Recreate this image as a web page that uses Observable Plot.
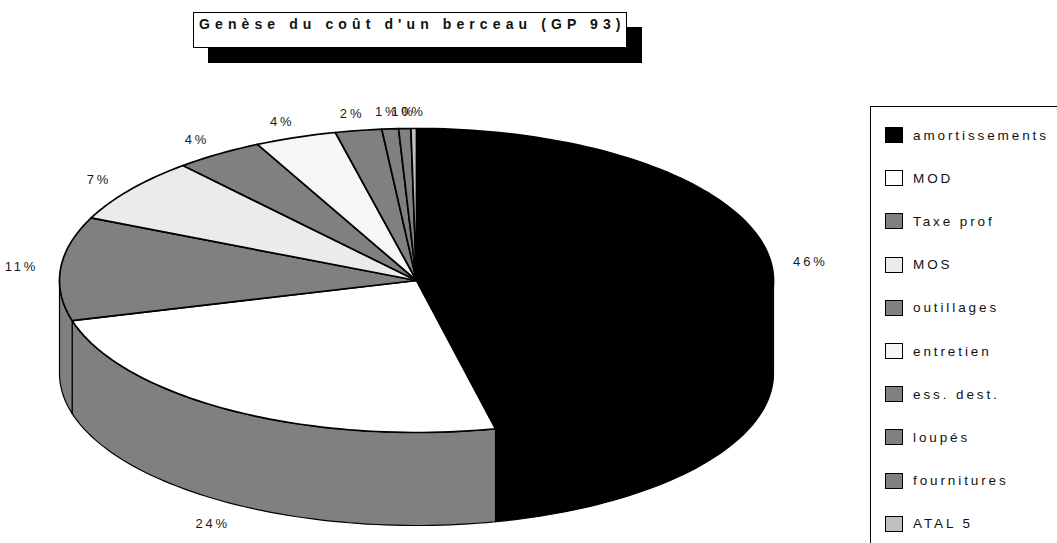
<!DOCTYPE html>
<html>
<head>
<meta charset="utf-8">
<script src="https://cdn.jsdelivr.net/npm/d3@7"></script>
<script src="https://cdn.jsdelivr.net/npm/@observablehq/plot@0.6"></script>
<style>
  html, body { margin: 0; padding: 0; background: #fff; }
  #wrap { position: relative; width: 1057px; height: 543px; overflow: hidden; font-family: "Liberation Sans", Arial, sans-serif; }
  #chart { position: absolute; left: 0; top: 0; }
  #title-shadow { position: absolute; left: 208px; top: 27px; width: 434px; height: 36px; background: #000; }
  #title { position: absolute; left: 193px; top: 12px; width: 434px; height: 36px; background: #fff; border: 1px solid #000;
           font-weight: bold; font-size: 14px; letter-spacing: 5.1px; line-height: 36px; padding-left: 5px; box-sizing: border-box; white-space: nowrap; color: #111; }
  #title span { position: relative; top: -7px; }
  #legend { position: absolute; left: 870px; top: 106px; width: 300px; height: 500px; border: 1px solid #000; background: #fff; }
  .item { position: absolute; left: 14px; height: 16px; display: flex; align-items: center; font-size: 13.5px; letter-spacing: 2.9px; color: #111; white-space: nowrap; }
  .sw { width: 18px; height: 16px; border: 1px solid #000; box-sizing: border-box; margin-right: 10px; }
</style>
</head>
<body>
<div id="wrap">
  <div id="chart"></div>
  <div id="title-shadow"></div>
  <div id="title"><span></span></div>
  <div id="legend"></div>
</div>
<script>
// ---- data ----
const title = "Genèse du coût d'un berceau (GP 93)";
const categories = ["amortissements", "MOD", "Taxe prof", "MOS", "outillages", "entretien", "ess. dest.", "loupés", "fournitures", "ATAL 5"];
const values = [46.45, 24.3, 11.0, 6.9, 4.0, 3.7, 2.1, 0.75, 0.55, 0.25];
const topColors = ["#000000", "#ffffff", "#808080", "#ebebeb", "#808080", "#f6f6f6", "#808080", "#808080", "#808080", "#c0c0c0"];
const sideColors = ["#000000", "#808080", "#808080", "#767676", "#767676", "#909090", "#767676", "#767676", "#767676", "#a0a0a0"];

// ---- geometry (tilted 3D pie, parallel projection) ----
const W = 1057, H = 543;
const cx = 416, cy = 280, rx = 357, ry = 152, thick = 93;
function project(r, theta, z) {
  return {x: cx + rx * r * Math.sin(theta), y: cy - ry * r * Math.cos(theta) + z * thick};
}
const total = d3.sum(values);
let acc = 0;
const slices = categories.map((c, i) => {
  const a0 = acc / total * 2 * Math.PI;
  acc += values[i];
  const a1 = acc / total * 2 * Math.PI;
  return {c, i, a0, a1, value: values[i]};
});

const visA = Math.PI / 2, visB = 3 * Math.PI / 2;
const sidePts = [];
const topPts = [];
const N = 240;
for (const s of slices) {
  const n = Math.max(2, Math.ceil((s.a1 - s.a0) / (2 * Math.PI) * N));
  const c0 = project(0, 0, 0);
  topPts.push({...c0, key: s.c, fill: topColors[s.i]});
  for (let k = 0; k <= n; k++) {
    const t = s.a0 + (s.a1 - s.a0) * k / n;
    topPts.push({...project(1, t, 0), key: s.c, fill: topColors[s.i]});
  }
  topPts.push({...c0, key: s.c, fill: topColors[s.i]});
  const b0 = Math.max(s.a0, visA), b1 = Math.min(s.a1, visB);
  if (b1 > b0) {
    const m = Math.max(2, Math.ceil((b1 - b0) / (2 * Math.PI) * N));
    const arr = [];
    for (let k = 0; k <= m; k++) arr.push(project(1, b0 + (b1 - b0) * k / m, 0));
    for (let k = m; k >= 0; k--) arr.push(project(1, b0 + (b1 - b0) * k / m, 1));
    arr.push(arr[0]);
    for (const p of arr) sidePts.push({...p, key: s.c, fill: sideColors[s.i]});
  }
}

// labels
const labels = slices.map(s => {
  const mid = (s.a0 + s.a1) / 2;
  const f = Math.max(0, Math.min(1, -Math.cos(mid) * 1.5));
  const q = project(1.11, mid, f);
  return {x: q.x, y: q.y + f * 6, text: Math.round(s.value / total * 100) + "%"};
});

const chart = Plot.plot({
  width: W, height: H,
  margin: 0,
  x: {domain: [0, W], range: [0, W], axis: null},
  y: {domain: [0, H], range: [0, H], axis: null},
  marks: [
    Plot.line(sidePts, {x: "x", y: "y", z: "key", fill: "fill", stroke: "#000", strokeWidth: 1.2, curve: "linear", strokeLinejoin: "round"}),
    Plot.line(topPts, {x: "x", y: "y", z: "key", fill: "fill", stroke: "#000", strokeWidth: 1.7, curve: "linear", strokeLinejoin: "round"}),
    Plot.text(labels, {x: "x", y: "y", text: "text", fontSize: 13, fill: "#1a1a1a", textAnchor: "middle",
                       fontFamily: "Liberation Sans, Arial, sans-serif"})
  ]
});
document.getElementById("chart").appendChild(chart);
chart.querySelectorAll("text").forEach(t => t.setAttribute("letter-spacing", "2.8"));

document.querySelector("#title span").textContent = title;
const legend = document.getElementById("legend");
categories.forEach((c, i) => {
  const it = document.createElement("div");
  it.className = "item";
  it.style.top = (20 + i * 43.2) + "px";
  const sw = document.createElement("div");
  sw.className = "sw";
  sw.style.background = topColors[i];
  it.appendChild(sw);
  it.appendChild(document.createTextNode(c));
  legend.appendChild(it);
});
</script>
</body>
</html>
